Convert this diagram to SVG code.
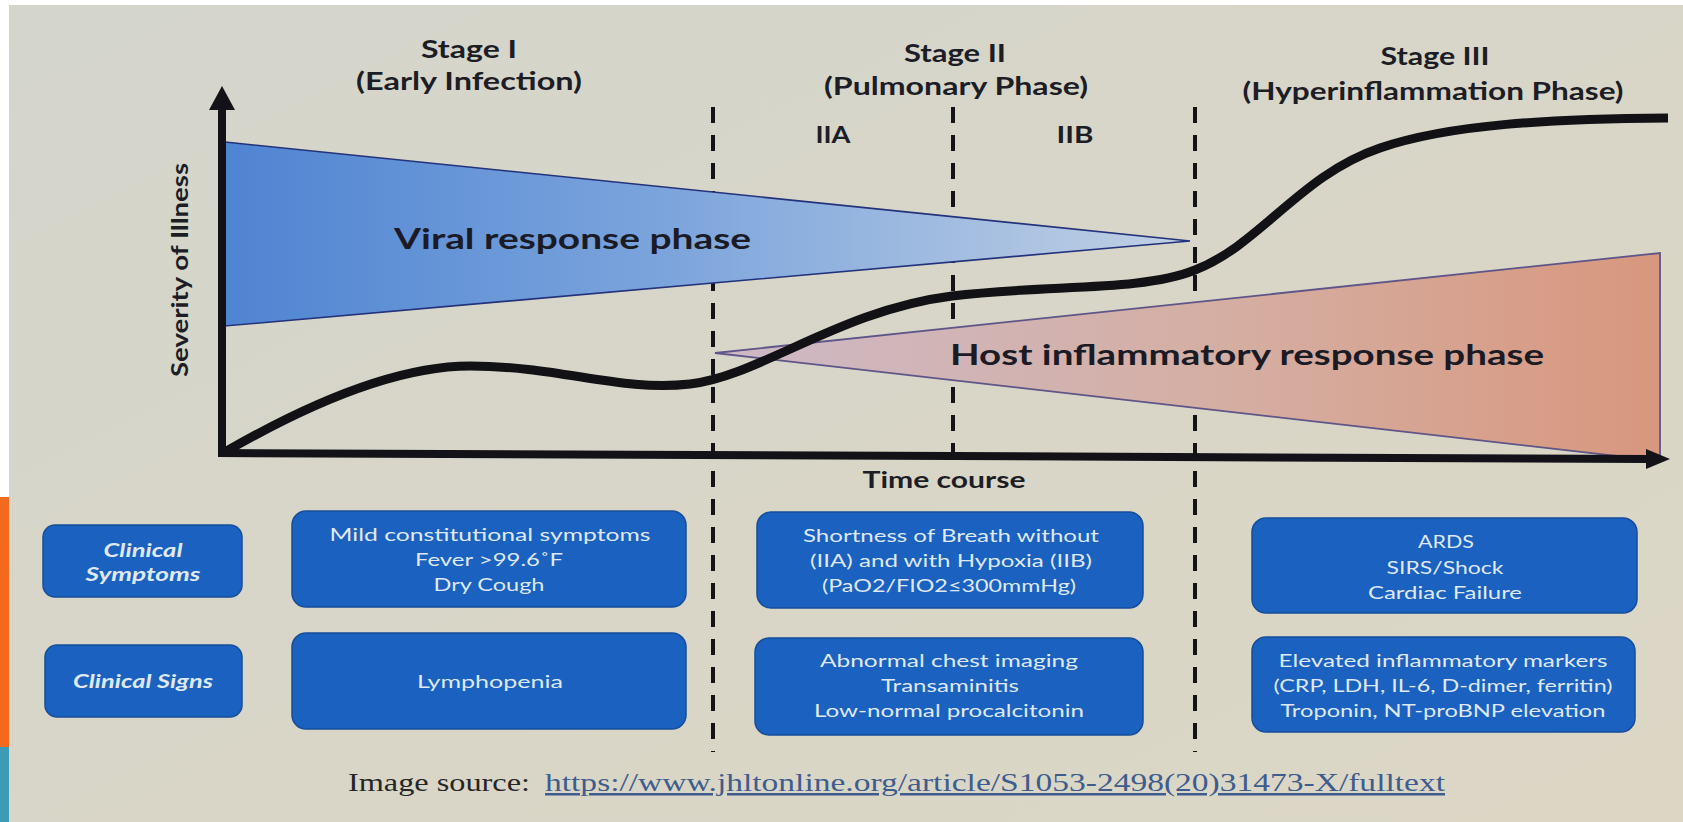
<svg xmlns="http://www.w3.org/2000/svg" width="1683" height="822" viewBox="0 0 1683 822">
<defs>
  <linearGradient id="gBg" x1="0" y1="0" x2="1" y2="1">
    <stop offset="0" stop-color="#d4d5cc"/>
    <stop offset="0.6" stop-color="#d9d6c7"/>
    <stop offset="1" stop-color="#dcd7c5"/>
  </linearGradient>
  <linearGradient id="gBlue" x1="225" y1="0" x2="1190" y2="0" gradientUnits="userSpaceOnUse">
    <stop offset="0" stop-color="#4f84d2"/>
    <stop offset="0.45" stop-color="#7ba4dc"/>
    <stop offset="1" stop-color="#c2d1e4"/>
  </linearGradient>
  <linearGradient id="gPink" x1="715" y1="0" x2="1660" y2="0" gradientUnits="userSpaceOnUse">
    <stop offset="0" stop-color="#cdb9c6"/>
    <stop offset="0.55" stop-color="#d5aea2"/>
    <stop offset="1" stop-color="#d8977e"/>
  </linearGradient>
</defs>
<style>
  .hdr{font-family:Lato,"Open Sans","Liberation Sans",sans-serif;font-weight:700;font-size:24px;fill:#1d1d26;text-anchor:middle}
  .sub{font-family:Lato,"Open Sans","Liberation Sans",sans-serif;font-weight:700;font-size:22px;fill:#1d1d26;text-anchor:middle}
  .big{font-family:Lato,"Open Sans","Liberation Sans",sans-serif;font-weight:700;font-size:29px;fill:#1b1b26}
  .dash{stroke:#141418;stroke-width:4;stroke-dasharray:16 12;fill:none}
  .axis{stroke:#121218;stroke-width:8;fill:none}
  .box{fill:#1b61c0;stroke:#164e9a;stroke-width:1.5}
  .bt{font-family:Lato,"Open Sans","Liberation Sans",sans-serif;font-size:17px;fill:#dfe8f3;text-anchor:middle}
  .lab{font-family:Lato,"Open Sans","Liberation Sans",sans-serif;font-size:19px;font-weight:700;font-style:italic;fill:#dfe8f3;text-anchor:middle}
  .src{font-family:"Liberation Serif","Times New Roman",serif;font-size:25px}
</style>

<g id="background">
  <rect x="0" y="0" width="1683" height="822" fill="url(#gBg)"/>
  <rect x="0" y="0" width="1683" height="5" fill="#ffffff"/>
  <rect x="0" y="0" width="9" height="497" fill="#ffffff"/>
  <rect x="0" y="497" width="9" height="250" fill="#f36a1e"/>
  <rect x="0" y="747" width="9" height="75" fill="#3d9bb8"/>
</g>

<g id="dividers">
  <line class="dash" x1="713" y1="107" x2="713" y2="752"/>
  <line class="dash" x1="953" y1="107" x2="953" y2="455"/>
  <line class="dash" x1="1195" y1="107" x2="1195" y2="752"/>
</g>

<g id="viral-phase">
  <polygon points="225,142 1190,241 225,326" fill="url(#gBlue)" stroke="#23327c" stroke-width="1.6"/>
  <text class="big" x="394" y="249" textLength="357" lengthAdjust="spacingAndGlyphs">Viral response phase</text>
</g>

<g id="host-phase">
  <polygon points="715,353 1660,253 1660,461" fill="url(#gPink)" stroke="#5e5588" stroke-width="1.8"/>
  <text class="big" x="950" y="365" textLength="594" lengthAdjust="spacingAndGlyphs">Host inflammatory response phase</text>
</g>

<g id="severity-curve">
  <path d="M225 452 C315 400 400 366 470 366 C560 366 620 392 690 384 C760 376 840 310 952 296 C1050 284 1140 292 1195 270 C1260 245 1300 175 1380 148 C1450 124 1550 119 1668 118" fill="none" stroke="#111116" stroke-width="9"/>
</g>

<g id="axes">
  <line class="axis" x1="222" y1="456" x2="222" y2="106"/>
  <polygon points="209,110 222,86 235,110" fill="#121218"/>
  <line class="axis" x1="218" y1="453" x2="1650" y2="459"/>
  <polygon points="1646,449 1670,459 1646,469" fill="#121218"/>
  <text class="sub" transform="translate(188,270) rotate(-90)" textLength="214" lengthAdjust="spacingAndGlyphs">Severity of Illness</text>
  <text class="sub" x="944" y="488" textLength="163" lengthAdjust="spacingAndGlyphs">Time course</text>
</g>

<g id="stage1-header">
  <text class="hdr" x="469" y="58" textLength="96" lengthAdjust="spacingAndGlyphs">Stage I</text>
  <text class="hdr" x="469" y="90" textLength="226" lengthAdjust="spacingAndGlyphs">(Early Infection)</text>
</g>
<g id="stage2-header">
  <text class="hdr" x="955" y="62" textLength="102" lengthAdjust="spacingAndGlyphs">Stage II</text>
  <text class="hdr" x="956" y="95" textLength="264" lengthAdjust="spacingAndGlyphs">(Pulmonary Phase)</text>
  <text class="sub" x="833" y="143" textLength="35" lengthAdjust="spacingAndGlyphs">IIA</text>
  <text class="sub" x="1075" y="143" textLength="37" lengthAdjust="spacingAndGlyphs">IIB</text>
</g>
<g id="stage3-header">
  <text class="hdr" x="1435" y="65" textLength="109" lengthAdjust="spacingAndGlyphs">Stage III</text>
  <text class="hdr" x="1433" y="100" textLength="381" lengthAdjust="spacingAndGlyphs">(Hyperinflammation Phase)</text>
</g>

<g id="label-symptoms">
  <rect class="box" x="43" y="525" width="199" height="72" rx="12"/>
  <text class="lab" x="143" y="557" textLength="79" lengthAdjust="spacingAndGlyphs">Clinical</text>
  <text class="lab" x="143" y="581" textLength="115" lengthAdjust="spacingAndGlyphs">Symptoms</text>
</g>
<g id="label-signs">
  <rect class="box" x="45" y="645" width="197" height="72" rx="12"/>
  <text class="lab" x="143" y="688" textLength="140" lengthAdjust="spacingAndGlyphs">Clinical Signs</text>
</g>

<g id="stage1-symptoms">
  <rect class="box" x="292" y="511" width="394" height="96" rx="14"/>
  <text class="bt" x="490" y="541" textLength="321" lengthAdjust="spacingAndGlyphs">Mild constitutional symptoms</text>
  <text class="bt" x="489" y="566" textLength="148" lengthAdjust="spacingAndGlyphs">Fever &gt;99.6˚F</text>
  <text class="bt" x="489" y="591" textLength="111" lengthAdjust="spacingAndGlyphs">Dry Cough</text>
</g>
<g id="stage1-signs">
  <rect class="box" x="292" y="633" width="394" height="96" rx="14"/>
  <text class="bt" x="490" y="688" textLength="146" lengthAdjust="spacingAndGlyphs">Lymphopenia</text>
</g>

<g id="stage2-symptoms">
  <rect class="box" x="757" y="512" width="386" height="96" rx="14"/>
  <text class="bt" x="951" y="542" textLength="296" lengthAdjust="spacingAndGlyphs">Shortness of Breath without</text>
  <text class="bt" x="951" y="567" textLength="282" lengthAdjust="spacingAndGlyphs">(IIA) and with Hypoxia (IIB)</text>
  <text class="bt" x="949" y="592" textLength="254" lengthAdjust="spacingAndGlyphs">(PaO2/FIO2≤300mmHg)</text>
</g>
<g id="stage2-signs">
  <rect class="box" x="755" y="638" width="388" height="97" rx="14"/>
  <text class="bt" x="949" y="667" textLength="258" lengthAdjust="spacingAndGlyphs">Abnormal chest imaging</text>
  <text class="bt" x="950" y="692" textLength="138" lengthAdjust="spacingAndGlyphs">Transaminitis</text>
  <text class="bt" x="949" y="717" textLength="270" lengthAdjust="spacingAndGlyphs">Low-normal procalcitonin</text>
</g>

<g id="stage3-symptoms">
  <rect class="box" x="1252" y="518" width="385" height="95" rx="14"/>
  <text class="bt" x="1446" y="548" textLength="56" lengthAdjust="spacingAndGlyphs">ARDS</text>
  <text class="bt" x="1445" y="574" textLength="117" lengthAdjust="spacingAndGlyphs">SIRS/Shock</text>
  <text class="bt" x="1445" y="599" textLength="154" lengthAdjust="spacingAndGlyphs">Cardiac Failure</text>
</g>
<g id="stage3-signs">
  <rect class="box" x="1252" y="637" width="383" height="95" rx="14"/>
  <text class="bt" x="1443" y="667" textLength="329" lengthAdjust="spacingAndGlyphs">Elevated inflammatory markers</text>
  <text class="bt" x="1443" y="692" textLength="339" lengthAdjust="spacingAndGlyphs">(CRP, LDH, IL-6, D-dimer, ferritin)</text>
  <text class="bt" x="1443" y="717" textLength="325" lengthAdjust="spacingAndGlyphs">Troponin, NT-proBNP elevation</text>
</g>

<g id="source">
  <text class="src" x="348" y="791" fill="#262626" textLength="182" lengthAdjust="spacingAndGlyphs">Image source:</text>
  <text class="src" x="545" y="791" fill="#3e5d8e" text-decoration="underline" textLength="900" lengthAdjust="spacingAndGlyphs">https://www.jhltonline.org/article/S1053-2498(20)31473-X/fulltext</text>
</g>
</svg>
